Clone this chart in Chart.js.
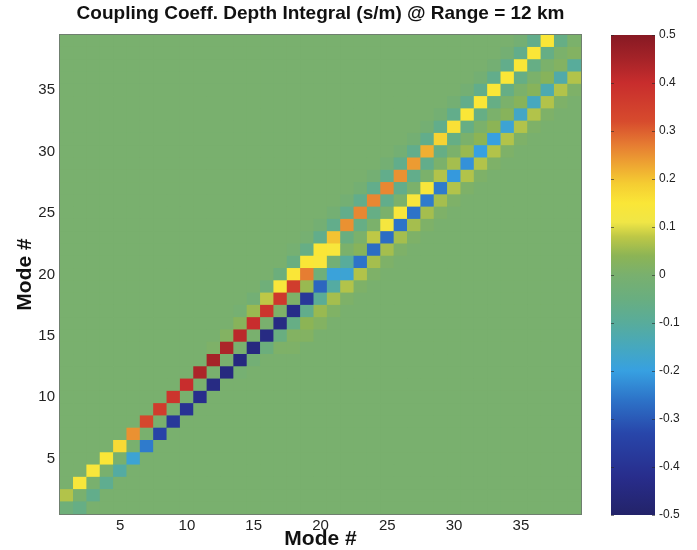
<!DOCTYPE html>
<html>
<head>
<meta charset="utf-8">
<script src="https://cdn.jsdelivr.net/npm/chart.js@4.4.0/dist/chart.umd.min.js"></script>
<style>
  html, body { margin: 0; padding: 0; background: #fff; }
  #wrap { position: relative; width: 697px; height: 550px; }
  #main { position: absolute; left: 0; top: 0; width: 600px; height: 550px; }
  #side { position: absolute; left: 600px; top: 0; width: 97px; height: 550px; }
</style>
</head>
<body>
<div id="wrap">
  <div id="main"><canvas id="heat"></canvas></div>
  <div id="side"><canvas id="cbar"></canvas></div>
</div>
<script>
// mode numbers (both axes)
const modes = ['1','2','3','4','5','6','7','8','9','10','11','12','13','14','15','16','17','18','19','20',
  '21','22','23','24','25','26','27','28','29','30','31','32','33','34','35','36','37','38','39'];
const modeTicks = [5, 10, 15, 20, 25, 30, 35];
const cbarTicks = [-0.5, -0.4, -0.3, -0.2, -0.1, 0, 0.1, 0.2, 0.3, 0.4, 0.5];

// coupling values read along the diagonals, indexed by column (mode #)
// mainDiag: (c, c) for c = 1..39
const mainDiag = [-0.03, 0, 0, 0, 0, 0, 0, 0, 0, 0, 0, 0, 0, 0, 0, 0, 0.01, 0.01, 0.05, -0.03,
  -0.02, 0.005, 0.005, 0.005, 0.005, 0.005, 0.005, 0.005, 0.005, 0.005, 0.005, 0.005, 0.005, 0.005, 0.005, 0.005, 0.005, 0.005, 0.005];
// superDiag1: (c, c+1) for c = 1..38
const superDiag1 = [0.07, 0.14, 0.14, 0.15, 0.17, 0.25, 0.33, 0.36, 0.38, 0.40, 0.44, 0.45, 0.44, 0.42, 0.40, 0.38, 0.37, 0.36, 0.27, 0.14,
  0.14, -0.05, -0.06, -0.06, -0.07, -0.07, -0.07, -0.07, -0.06, -0.06, -0.06, -0.06, -0.06, -0.06, -0.06, -0.06, -0.06, -0.06];
// superDiag2: (c, c+2) for c = 1..37
const superDiag2 = [0, 0, 0, 0, 0, 0, 0, 0, 0, 0, 0, 0.01, 0.02, 0.03, 0.05, 0.08, 0.14, 0.15, 0.15, 0.15,
  0.20, 0.25, 0.26, 0.26, 0.26, 0.25, 0.24, 0.22, 0.18, 0.16, 0.15, 0.15, 0.15, 0.15, 0.15, 0.15, 0.15];
// superDiag3: (c, c+3) for c = 1..36
const superDiag3 = [0, 0, 0, 0, 0, 0, 0, 0, 0, 0, 0, 0, 0, -0.01, -0.02, -0.03, -0.04, -0.05, -0.06, -0.07,
  -0.07, -0.07, -0.07, -0.07, -0.07, -0.07, -0.07, -0.07, -0.07, -0.07, -0.07, -0.07, -0.07, -0.07, -0.07, -0.07];
// superDiag4: (c, c+4) for c = 1..35
const superDiag4 = [0, 0, 0, 0, 0, 0, 0, 0, 0, 0, 0, 0, 0, 0, 0, 0, 0, -0.01, -0.01, -0.015,
  -0.015, -0.015, -0.015, -0.015, -0.015, -0.015, -0.015, -0.015, -0.015, -0.015, -0.015, -0.015, -0.015, -0.015, -0.015];
// subDiag1: (c, c-1) for c = 2..39
const subDiag1 = [-0.06, -0.07, -0.08, -0.11, -0.18, -0.25, -0.34, -0.38, -0.40, -0.42, -0.44, -0.45, -0.45, -0.45, -0.44, -0.44, -0.43, -0.38, -0.28,
  -0.19, -0.10, 0.03, 0.08, 0.13, 0.14, 0.14, 0.14, 0.07, 0.06, 0.05, 0.04, 0.04, 0.03, 0.03, 0.03, 0.03, 0.02, 0.02];
// subDiag2: (c, c-2) for c = 3..39
const subDiag2 = [0, 0, 0, 0, 0, 0, 0, 0, 0, 0, 0, -0.01, -0.02, -0.04, -0.05, -0.06, -0.07, -0.09,
  -0.11, -0.18, -0.26, -0.27, -0.27, -0.26, -0.26, -0.25, -0.25, -0.21, -0.22, -0.20, -0.20, -0.18, -0.16, -0.15, -0.13, -0.12, -0.10];
// subDiag3: (c, c-3) for c = 4..39
const subDiag3 = [0, 0, 0, 0, 0, 0, 0, 0, 0, 0, 0, 0, 0, 0.01, 0.02, 0.04, 0.05, 0.06,
  0.07, 0.07, 0.06, 0.06, 0.06, 0.06, 0.06, 0.06, 0.07, 0.07, 0.07, 0.07, 0.07, 0.07, 0.07, 0.07, 0.07, 0.07];
// subDiag4: (c, c-4) for c = 5..39
const subDiag4 = [0, 0, 0, 0, 0, 0, 0, 0, 0, 0, 0, 0, 0, 0.01, 0.02, 0.02, 0.015,
  0.01, 0.01, 0.01, 0.01, 0.01, 0.01, 0.01, 0.01, 0.01, 0.01, 0.01, 0.01, 0.01, 0.01, 0.01, 0.01, 0.01, 0.01];

// colour scale (jet-like, as printed)
const cmapValues = [-0.5, -0.42, -0.33, -0.26, -0.2, -0.15, -0.1, -0.05, 0, 0.04, 0.08, 0.11, 0.15, 0.19, 0.23, 0.27, 0.32, 0.4, 0.45, 0.5];
const cmapColors = [[35,35,105],[40,45,140],[40,70,170],[45,115,200],[55,160,225],[70,168,190],[88,172,155],[105,174,128],
  [121,176,110],[140,180,85],[190,200,70],[240,230,70],[250,230,55],[245,205,50],[238,165,50],[230,125,50],[215,75,45],
  [200,45,45],[165,35,40],[135,25,35]];

function colorFor(v) {
  v = Math.max(-0.5, Math.min(0.5, v));
  let i = 0;
  while (i < cmapValues.length - 2 && v > cmapValues[i + 1]) i++;
  const t = (v - cmapValues[i]) / (cmapValues[i + 1] - cmapValues[i]);
  const a = cmapColors[i], b = cmapColors[i + 1];
  const c = a.map((x, k) => Math.round(x + (b[k] - x) * t));
  return 'rgb(' + c.join(',') + ')';
}

// grid[row][col], 0-based
const N = modes.length;
const grid = [];
for (let r = 0; r < N; r++) grid.push(new Array(N).fill(0));
function putDiag(vals, d) { // d = row - col
  vals.forEach((v, i) => {
    const col = d >= 0 ? i : i - d;
    const row = col + d;
    grid[row][col] = v;
  });
}
putDiag(mainDiag, 0);
putDiag(superDiag1, 1);
putDiag(superDiag2, 2);
putDiag(superDiag3, 3);
putDiag(superDiag4, 4);
putDiag(subDiag1, -1);
putDiag(subDiag2, -2);
putDiag(subDiag3, -3);
putDiag(subDiag4, -4);

// one floating-bar dataset per row of the matrix
const rows = grid.map((vals, r) => ({
  data: vals.map(() => [r + 0.5, r + 1.5]),
  backgroundColor: vals.map(colorFor),
  borderWidth: 0,
  grouped: false,
  barPercentage: 1,
  categoryPercentage: 1
}));

const frame = {
  id: 'frame',
  beforeDatasetsDraw(chart) {
    const {ctx, chartArea: a} = chart;
    ctx.save();
    ctx.fillStyle = colorFor(0);
    ctx.fillRect(a.left, a.top, a.width, a.height);
    ctx.restore();
  },
  afterDatasetsDraw(chart) {
    const {ctx, chartArea: a} = chart;
    ctx.save();
    ctx.strokeStyle = '#6f7f6f';
    ctx.lineWidth = 1;
    ctx.strokeRect(a.left - 0.5, a.top - 0.5, a.width + 1, a.height + 1);
    ctx.restore();
  }
};

Chart.defaults.font.family = '"Liberation Sans", Arial, Helvetica, sans-serif';
Chart.defaults.color = '#222';

new Chart(document.getElementById('heat'), {
  type: 'bar',
  data: { labels: modes, datasets: rows },
  plugins: [frame],
  options: {
    responsive: true,
    maintainAspectRatio: false,
    animation: false,
    layout: { padding: { left: 0, right: 19, top: 0, bottom: 0 } },
    plugins: {
      legend: { display: false },
      tooltip: { enabled: false }
    },
    scales: {
      x: {
        type: 'category',
        offset: true,
        grid: { display: false, drawTicks: false },
        border: { display: false },
        ticks: {
          autoSkip: false, maxRotation: 0, padding: 3,
          font: { size: 15 },
          callback: (v, i) => modeTicks.includes(i + 1) ? modes[i] : ''
        },
        title: { display: true, text: 'Mode #', color: '#111', font: { size: 21, weight: 'bold', lineHeight: 1 }, padding: 0 },
        afterFit: s => { s.height = 36; }
      },
      top: {
        type: 'linear',
        position: 'top',
        min: 0, max: 1,
        grid: { display: false, drawTicks: false },
        border: { display: false },
        ticks: { display: false },
        title: {
          display: true,
          text: 'Coupling Coeff. Depth Integral (s/m) @ Range = 12 km',
          color: '#111',
          font: { size: 19, weight: 'bold', lineHeight: 1 },
          padding: { top: 4, bottom: 0 }
        },
        afterFit: s => { s.height = 35; }
      },
      y: {
        type: 'linear',
        min: 0.5, max: 39.5,
        grid: { display: false, drawTicks: false },
        border: { display: false },
        afterBuildTicks: s => { s.ticks = modeTicks.map(v => ({ value: v })); },
        ticks: { padding: 5, font: { size: 15 } },
        title: { display: true, text: 'Mode #', color: '#111', font: { size: 21, weight: 'bold', lineHeight: 1 }, padding: { top: 15, bottom: 0 } },
        afterFit: s => { s.width = 60; }
      }
    }
  }
});

// colour bar
const cbarMarks = {
  id: 'cbarMarks',
  afterDatasetsDraw(chart) {
    const {ctx, chartArea: a, scales: {y}} = chart;
    ctx.save();
    ctx.strokeStyle = 'rgba(40,40,40,0.6)';
    ctx.lineWidth = 1;
    cbarTicks.forEach(v => {
      const py = Math.round(y.getPixelForValue(v)) + 0.5;
      ctx.beginPath();
      ctx.moveTo(a.left, py); ctx.lineTo(a.left + 3, py);
      ctx.moveTo(a.right - 3, py); ctx.lineTo(a.right, py);
      ctx.stroke();
    });
    ctx.restore();
  }
};

new Chart(document.getElementById('cbar'), {
  type: 'bar',
  data: {
    labels: [''],
    datasets: [{
      data: [[-0.5, 0.5]],
      borderWidth: 0,
      barPercentage: 1,
      categoryPercentage: 1,
      backgroundColor: c => {
        const chart = c.chart;
        if (!chart.chartArea) return colorFor(0);
        const y = chart.scales.y;
        const g = chart.ctx.createLinearGradient(0, y.getPixelForValue(-0.5), 0, y.getPixelForValue(0.5));
        cmapValues.forEach((v, i) => g.addColorStop(v + 0.5, 'rgb(' + cmapColors[i].join(',') + ')'));
        return g;
      }
    }]
  },
  plugins: [cbarMarks],
  options: {
    responsive: true,
    maintainAspectRatio: false,
    animation: false,
    layout: { padding: { left: 11, right: 0, top: 35, bottom: 35 } },
    plugins: { legend: { display: false }, tooltip: { enabled: false } },
    scales: {
      x: { display: false },
      y: {
        position: 'right',
        min: -0.5, max: 0.5,
        grid: { display: false, drawTicks: false },
        border: { display: false },
        afterBuildTicks: s => { s.ticks = cbarTicks.map(v => ({ value: v })); },
        ticks: { padding: 4, font: { size: 12 }, callback: v => String(+v.toFixed(1)) },
        afterFit: s => { s.width = 42; }
      }
    }
  }
});
</script>
</body>
</html>
